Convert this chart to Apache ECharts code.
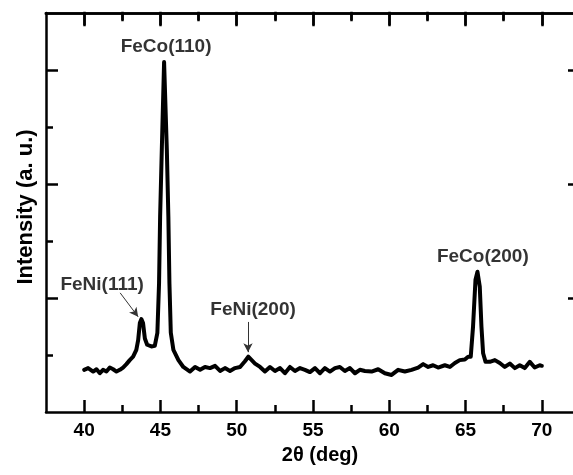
<!DOCTYPE html>
<html>
<head>
<meta charset="utf-8">
<script src="https://cdn.jsdelivr.net/npm/echarts@6/dist/echarts.min.js"></script>
<style>
html,body{margin:0;padding:0;background:#fff;}
#chart{width:573px;height:475px;}
</style>
</head>
<body>
<div id="chart"></div>
<script>
// ---- data ----
const twoTheta = [
  40.00,40.26,40.59,40.81,41.03,41.24,41.46,41.68,41.90,42.12,42.34,42.55,42.77,42.99,
  43.21,43.42,43.54,43.65,43.75,43.86,43.98,44.13,44.41,44.63,44.80,44.91,44.98,45.09,
  45.24,45.42,45.52,45.59,45.68,45.85,46.18,46.50,46.94,47.27,47.60,47.92,48.25,48.58,
  48.91,49.23,49.56,49.89,50.22,50.54,50.76,50.98,51.20,51.53,51.85,52.18,52.51,52.84,
  53.16,53.49,53.82,54.15,54.47,54.80,55.13,55.46,55.78,56.11,56.44,56.76,57.09,57.42,
  57.75,58.07,58.40,58.84,59.27,59.71,60.15,60.58,61.02,61.46,61.89,62.22,62.55,62.87,
  63.20,63.64,63.97,64.30,64.62,64.95,65.17,65.34,65.49,65.65,65.78,65.93,66.04,66.15,
  66.31,66.59,66.92,67.24,67.57,67.90,68.23,68.55,68.88,69.21,69.53,69.86,70.00
];
const intensity = [
  74,77,71,75,68,74,71,78,75,71,74,78,84,91,
  97,109,126,156,163,156,129,118,115,116,139,226,343,460,
  614,460,343,226,139,109,91,79,71,79,74,79,77,81,
  72,77,72,77,79,89,97,91,85,79,71,79,72,77,
  68,79,72,77,74,70,77,68,77,71,77,79,72,77,
  68,74,72,71,75,68,65,74,71,74,78,84,79,82,
  78,82,79,86,91,92,97,97,150,232,246,220,150,103,
  88,88,91,86,79,85,77,82,77,88,78,82,81
];
const xMajorTicks = [40, 45, 50, 55, 60, 65, 70];
const xMinorTicks = [42.5, 47.5, 52.5, 57.5, 62.5, 67.5];
const yMajorTicks = [200, 400, 600];
const yMinorTicks = [100, 300, 500];
const xTitle = '2θ (deg)';
const yTitle = 'Intensity (a. u.)';
const peakNames = ['FeNi(111)', 'FeCo(110)', 'FeNi(200)', 'FeCo(200)'];
const peakLabelX = [41.18, 45.37, 51.07, 66.13];
const peakLabelY = [224, 641, 180, 273];
// arrows: [startX, startY, endX, endY]
const arrowFeNi111 = [42.36, 209, 43.54, 167];
const arrowFeNi200 = [50.74, 158, 50.74, 105];

// ---- chart ----
const FONT = "'Liberation Sans', Arial, Helvetica, sans-serif";
const X_MIN = 37.5, X_MAX = 72.5, Y_MIN = 0, Y_MAX = 700;
const lineW = 2.5;
const PLOT_H = 399;
const MAJOR_LEN = 12, MINOR_LEN = 7;
const gridBox = {left: 46, top: 13, width: 534, height: PLOT_H, containLabel: false, outerBoundsMode: 'none'};

function xAxisDef(grid, position, ticks, len, showLine, showLabel) {
  return {
    type: 'value', gridIndex: grid, position: position, min: X_MIN, max: X_MAX,
    splitLine: {show: false},
    axisLine: {show: showLine, onZero: false, lineStyle: {color: '#000', width: lineW}},
    axisTick: {show: true, inside: true, length: len, customValues: ticks,
      lineStyle: {color: '#000', width: lineW}},
    axisLabel: {show: showLabel, customValues: ticks, margin: 9,
      color: '#000', fontFamily: FONT, fontWeight: 'bold', fontSize: 19}
  };
}
function yAxisDef(grid, position, ticks, len, showLine) {
  return {
    type: 'value', gridIndex: grid, position: position, min: Y_MIN, max: Y_MAX,
    splitLine: {show: false},
    axisLine: {show: showLine, onZero: false, lineStyle: {color: '#000', width: lineW}},
    axisTick: {show: true, inside: true, length: len, customValues: ticks,
      lineStyle: {color: '#000', width: lineW}},
    axisLabel: {show: false}
  };
}

const xAxes = [
  xAxisDef(0, 'bottom', xMajorTicks, MAJOR_LEN, true, true),
  xAxisDef(0, 'top', xMajorTicks, MAJOR_LEN, true, false),
  xAxisDef(1, 'bottom', xMinorTicks, MINOR_LEN, false, false),
  xAxisDef(1, 'top', xMinorTicks, MINOR_LEN, false, false)
];
const yAxes = [
  yAxisDef(0, 'left', yMajorTicks, MAJOR_LEN, true),
  yAxisDef(0, 'right', yMajorTicks, MAJOR_LEN, true),
  yAxisDef(1, 'left', yMinorTicks, MINOR_LEN, false),
  yAxisDef(1, 'right', yMinorTicks, MINOR_LEN, false)
];

// top frame edge and its inward ticks, placed through the chart's own scale
const unitsPerPx = (Y_MAX - Y_MIN) / PLOT_H;
const topFrame = [[{coord: [X_MIN, Y_MAX]}, {coord: [X_MAX, Y_MAX]}]]
  .concat(xMajorTicks.map(v => [{coord: [v, Y_MAX]}, {coord: [v, Y_MAX - MAJOR_LEN * unitsPerPx]}]))
  .concat(xMinorTicks.map(v => [{coord: [v, Y_MAX]}, {coord: [v, Y_MAX - MINOR_LEN * unitsPerPx]}]));

const lineData = twoTheta.map((x, i) => [x, intensity[i]]);
const labelData = peakNames.map((n, i) => [peakLabelX[i], peakLabelY[i], n]);

const chart = echarts.init(document.getElementById('chart'));
chart.setOption({
  animation: false,
  grid: [Object.assign({}, gridBox), Object.assign({}, gridBox)],
  xAxis: xAxes,
  yAxis: yAxes,
  graphic: [
    {type: 'text', x: 320, y: 455, silent: true,
      style: {text: xTitle, fill: '#000', font: "bold 20px " + FONT,
        align: 'center', verticalAlign: 'middle'}},
    {type: 'text', x: 26, y: 207, rotation: Math.PI / 2, silent: true,
      style: {text: yTitle, fill: '#000', font: "bold 22px " + FONT,
        align: 'center', verticalAlign: 'middle'}}
  ],
  series: [
    {
      type: 'line', data: lineData, xAxisIndex: 0, yAxisIndex: 0,
      showSymbol: false, symbol: 'none', smooth: false,
      lineStyle: {color: '#000', width: 4, join: 'round', cap: 'round'},
      markLine: {
        silent: true, animation: false,
        symbol: ['none', 'none'],
        label: {show: false},
        emphasis: {disabled: true},
        lineStyle: {color: '#000', width: lineW, type: 'solid', cap: 'square'},
        data: topFrame
      }
    },
    {
      type: 'scatter', data: labelData, xAxisIndex: 0, yAxisIndex: 0,
      symbolSize: 0, silent: true,
      label: {
        show: true, position: 'inside',
        formatter: p => p.data[2],
        color: '#000', fontFamily: FONT, fontWeight: 'bold', fontSize: 19
      },
      markLine: {
        silent: true, animation: false,
        symbol: ['none', 'arrow'], symbolSize: [7, 9],
        label: {show: false},
        emphasis: {disabled: true},
        lineStyle: {color: '#333', width: 1, type: 'solid'},
        data: [
          [{coord: [arrowFeNi111[0], arrowFeNi111[1]]}, {coord: [arrowFeNi111[2], arrowFeNi111[3]]}],
          [{coord: [arrowFeNi200[0], arrowFeNi200[1]]}, {coord: [arrowFeNi200[2], arrowFeNi200[3]]}]
        ]
      }
    }
  ]
});
</script>
</body>
</html>
